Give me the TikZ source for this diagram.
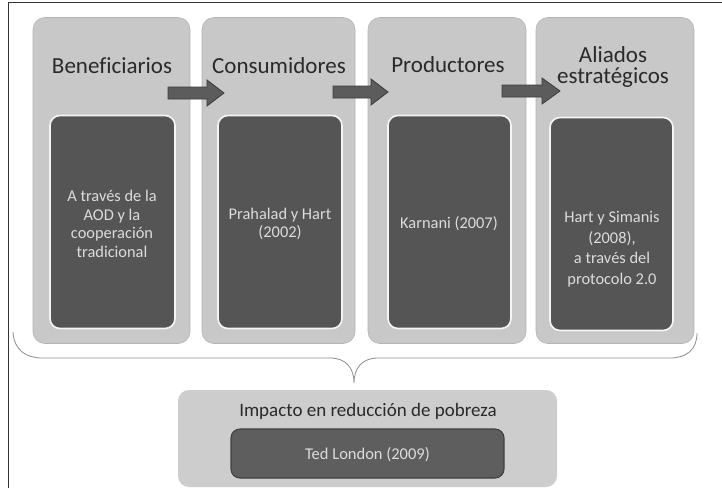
\documentclass[tikz,border=0pt]{standalone}
\usepackage{fontspec}
\setmainfont{Carlito}[Ligatures=NoCommon]
\definecolor{outerfill}{HTML}{C8C8C8}
\definecolor{innerfill}{HTML}{555555}
\definecolor{headtxt}{HTML}{2A2A2A}
\definecolor{innertxt}{HTML}{DCDCDC}
\definecolor{arrowfill}{HTML}{5C5C5C}
\definecolor{arrowline}{HTML}{3C3C3C}
\definecolor{bracecol}{HTML}{8C8C8C}
\definecolor{bottomfill}{HTML}{CDCDCD}
\definecolor{bottominner}{HTML}{5E5E5E}
\begin{document}
\begin{tikzpicture}[x=1pt,y=-1pt,
  outerbox/.style={draw=outerfill!90!black, line width=0.6pt, fill=outerfill, rounded corners=12pt, inner sep=0pt},
  innerbox/.style={draw=white!92!gray, line width=1.6pt, fill=innerfill, rounded corners=10pt, inner sep=0pt, minimum height=213pt},
  headtext/.style={text=headtxt, font=\fontsize{23}{25}\selectfont, inner sep=0pt, align=center},
  bodytext/.style={text=innertxt, font=\fontsize{16.4}{18.5}\selectfont, inner sep=0pt, align=center},
  blockarrow/.style={fill=arrowfill, draw=arrowline, line width=0.8pt, line join=miter},
  bracepath/.style={draw=bracecol, line width=0.8pt}]
\path[use as bounding box] (0,0) rectangle (722,488);
\node[fill=white, minimum width=722pt, minimum height=488pt, inner sep=0pt] (bg) at (361,244) {};
% frame (left and top lines)
\coordinate (fbl) at (8,488);
\coordinate (ftl) at (8,2);
\coordinate (ftr) at (722,2);
\draw[black!80, line width=1pt] (fbl) -- (ftl) -- (ftr);

% outer boxes
\node[outerbox, minimum width=157pt, minimum height=326pt] (b1) at (111.5,180.5) {};
\node[outerbox, minimum width=153pt, minimum height=326pt] (b2) at (278.5,180.5) {};
\node[outerbox, minimum width=158pt, minimum height=326pt] (b3) at (447,180.5) {};
\node[outerbox, minimum width=158pt, minimum height=326pt] (b4) at (615,180.5) {};

% headings
\node[headtext, anchor=base] (h1) at (112,73) {Beneficiarios};
\node[headtext, anchor=base] (h2) at (279,73) {Consumidores};
\node[headtext, anchor=base] (h3) at (448,72) {Productores};
\node[headtext, anchor=base] (h4a) at (613,62) {Aliados};
\node[headtext, anchor=base] (h4b) at (613,83) {estratégicos};

% inner boxes
\node[innerbox, minimum width=125pt] (i1) at (112.5,222) {};
\node[innerbox, minimum width=124pt] (i2) at (280,222) {};
\node[innerbox, minimum width=123pt] (i3) at (449.5,222) {};
\node[innerbox, minimum width=123pt] (i4) at (611.5,224) {};

% inner texts
\node[bodytext] (t1) at (112,224) {A través de la\\AOD y la\\cooperación\\tradicional};
\node[bodytext] (t2) at (280,224) {Prahalad y Hart\\(2002)};
\node[bodytext] (t3) at (449,224) {Karnani (2007)};
\node[bodytext, font=\fontsize{16.4}{20.5}\selectfont] (t4) at (612,249) {Hart y Simanis\\(2008),\\a través del\\protocolo 2.0};

% block arrows
\draw[blockarrow] (168,87) -- (207,87) -- (207,80) -- (224,93) -- (207,106) -- (207,99) -- (168,99) -- cycle;
\draw[blockarrow] (333,86) -- (371,86) -- (371,79) -- (388,92) -- (371,105) -- (371,98) -- (333,98) -- cycle;
\draw[blockarrow] (502,85) -- (542,85) -- (542,78) -- (560,91) -- (542,104) -- (542,97) -- (502,97) -- cycle;

% brace
\coordinate (brl) at (13,332);
\coordinate (brr) at (697,333);
\coordinate (brtip) at (354,383);
\draw[bracepath] (brl) .. controls (14,350) and (26,358) .. (42,358)
  -- (330,358) .. controls (346,358) and (354,368) .. (brtip)
  .. controls (354,368) and (362,358) .. (378,358)
  -- (670,358) .. controls (686,358) and (697,350) .. (brr);

% bottom box
\node[fill=bottomfill, rounded corners=11pt, minimum width=379pt, minimum height=97pt, inner sep=0pt] (bb) at (367.5,438.5) {};
\node[text=headtxt, font=\fontsize{19}{21}\selectfont, inner sep=0pt, anchor=base] (bt) at (368,416) {Impacto en reducción de pobreza};
\node[fill=bottominner, draw=black!75, line width=1.1pt, rounded corners=9pt, minimum width=273pt, minimum height=49pt, inner sep=0pt] (bi) at (367.5,453.5) {};
\node[bodytext, font=\fontsize{16.5}{18}\selectfont] (bit) at (367.5,455) {Ted London (2009)};
\end{tikzpicture}
\end{document}
